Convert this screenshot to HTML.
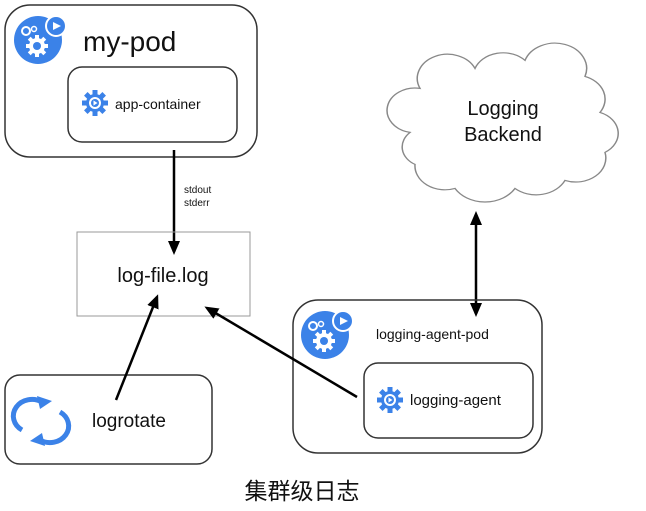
<!DOCTYPE html>
<html><head><meta charset="utf-8"><style>
body{margin:0;background:#fff;width:646px;height:506px;overflow:hidden}
text{font-family:"Liberation Sans","Noto Sans CJK SC",sans-serif;fill:#111}
</style></head><body>
<svg width="646" height="506" viewBox="0 0 646 506" xmlns="http://www.w3.org/2000/svg">
<defs>
<marker id="ah" markerWidth="14" markerHeight="14" refX="11" refY="7" orient="auto" markerUnits="userSpaceOnUse"><path d="M0,1 L14,7 L0,13 z" fill="#000"/></marker>
<g id="gear"><circle r="9" fill="#3b82e8"/>
<g fill="#3b82e8"><rect x="-2.5" y="-13" width="5" height="26"/><rect x="-2.5" y="-13" width="5" height="26" transform="rotate(45)"/><rect x="-2.5" y="-13" width="5" height="26" transform="rotate(90)"/><rect x="-2.5" y="-13" width="5" height="26" transform="rotate(135)"/></g>
<circle r="6" fill="#fff"/><circle r="4" fill="#3b82e8"/><path d="M-1.5,-2.5 L2.5,0 L-1.5,2.5z" fill="#fff"/></g>
<g id="podicon"><circle r="24" fill="#3b82e8"/><circle cx="18" cy="-14" r="10" fill="#3b82e8" stroke="#fff" stroke-width="2"/><path d="M15,-18 L23,-14 L15,-10z" fill="#fff"/>
<circle cx="-12" cy="-9" r="4" fill="none" stroke="#fff" stroke-width="2"/><circle cx="-4" cy="-11" r="2.5" fill="none" stroke="#fff" stroke-width="1.5"/>
<g transform="translate(-1,6)" fill="#fff"><circle r="8"/><rect x="-2" y="-11" width="4" height="22"/><rect x="-2" y="-11" width="4" height="22" transform="rotate(45)"/><rect x="-2" y="-11" width="4" height="22" transform="rotate(90)"/><rect x="-2" y="-11" width="4" height="22" transform="rotate(135)"/><circle r="4" fill="#3b82e8"/></g></g>
</defs>
<rect x="5" y="5" width="252" height="152" rx="25" fill="none" stroke="#333" stroke-width="1.5"/>
<use href="#podicon" x="38" y="40"/>
<text x="83" y="51" font-size="28">my-pod</text>
<rect x="68" y="67" width="169" height="75" rx="14" fill="none" stroke="#333" stroke-width="1.5"/>
<use href="#gear" x="95" y="103"/>
<text x="115" y="109" font-size="14">app-container</text>
<line x1="174" y1="150" x2="174" y2="252" stroke="#000" stroke-width="2.5" marker-end="url(#ah)"/>
<text x="184" y="193" font-size="10">stdout</text><text x="184" y="206" font-size="10">stderr</text>
<rect x="77" y="232" width="173" height="84" fill="none" stroke="#999" stroke-width="1"/>
<text x="163" y="282" font-size="20" text-anchor="middle">log-file.log</text>
<g transform="translate(0,122) scale(1,0.8) translate(0,-122)">
<path d="M420,80 a30,30 0 0 1 55,-25 a30,30 0 0 1 50,-10 a30,30 0 0 1 60,20 a30,30 0 0 1 15,45 a28,28 0 0 1 5,50 a30,30 0 0 1 -40,35 a32,32 0 0 1 -50,10 a35,35 0 0 1 -60,0 a30,30 0 0 1 -40,-30 a25,25 0 0 1 -5,-40 a25,25 0 0 1 10,-55z" fill="none" stroke="#888" stroke-width="1.5"/>
</g>
<text x="503" y="115" font-size="20" text-anchor="middle">Logging</text>
<text x="503" y="141" font-size="20" text-anchor="middle">Backend</text>
<line x1="476" y1="222" x2="476" y2="314" stroke="#000" stroke-width="2.5" marker-end="url(#ah)"/>
<path d="M470,225 L476,211 L482,225z" fill="#000"/>
<rect x="293" y="300" width="249" height="153" rx="25" fill="none" stroke="#333" stroke-width="1.5"/>
<use href="#podicon" x="325" y="335"/>
<text x="376" y="339" font-size="14">logging-agent-pod</text>
<rect x="364" y="363" width="169" height="75" rx="14" fill="none" stroke="#333" stroke-width="1.5"/>
<use href="#gear" x="390" y="400"/>
<text x="410" y="405" font-size="15">logging-agent</text>
<line x1="357" y1="397" x2="207" y2="308" stroke="#000" stroke-width="2.5" marker-end="url(#ah)"/>
<rect x="5" y="375" width="207" height="89" rx="15" fill="none" stroke="#333" stroke-width="1.5"/>
<g fill="none" stroke="#3b82e8" stroke-width="5"><path d="M22,430 a18,16 0 0 1 20,-28"/><path d="M60,412 a18,16 0 0 1 -20,28"/></g>
<path d="M37,396 L52,401 L40,409z M45,446 L30,441 L42,433z" fill="#3b82e8"/>
<text x="92" y="427" font-size="19">logrotate</text>
<line x1="116" y1="400" x2="157" y2="297" stroke="#000" stroke-width="2.5" marker-end="url(#ah)"/>
<text x="302" y="499" font-size="23" text-anchor="middle">集群级日志</text>
</svg>
</body></html>
